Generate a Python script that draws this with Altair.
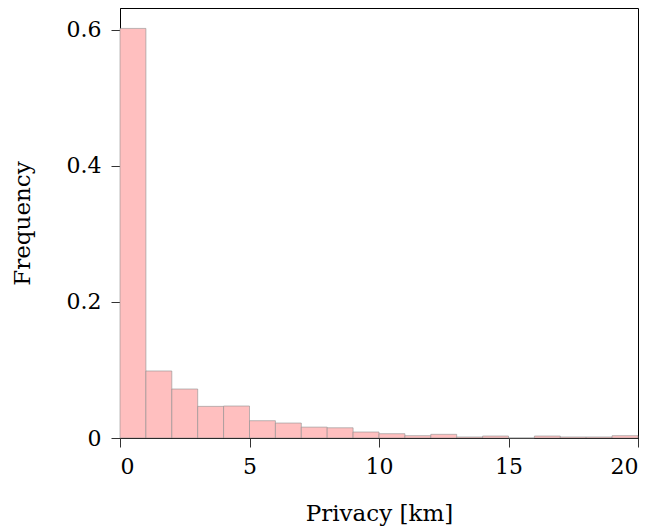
import altair as alt
import pandas as pd

bin_start = list(range(0, 20))
bin_end = list(range(1, 21))
frequency = [0.602, 0.0985, 0.072, 0.0465, 0.047, 0.0254, 0.022, 0.016, 0.015,
             0.0088, 0.0063, 0.0034, 0.0054, 0.0015, 0.0029, 0.0, 0.0029,
             0.0015, 0.0015, 0.0034]

df = pd.DataFrame({"start": bin_start, "end": bin_end, "freq": frequency})

FONT = "DejaVu Serif, serif"

chart = alt.Chart(df).mark_rect(
    fill="#ffbfbf", stroke="#8f8f8f", strokeWidth=1, strokeOpacity=0.6
).encode(
    x=alt.X("start:Q", scale=alt.Scale(domain=[0, 20], nice=False, zero=True),
            axis=alt.Axis(title="Privacy [km]", values=[0, 5, 10, 15, 20],
                          grid=False, tickSize=9, labelPadding=9, titlePadding=25)),
    x2="end:Q",
    y=alt.Y("freq:Q", scale=alt.Scale(domain=[0, 0.632], nice=False),
            axis=alt.Axis(title="Frequency", values=[0, 0.2, 0.4, 0.6], grid=False,
                          tickSize=9, labelPadding=10, titlePadding=32,
                          labelExpr="datum.value == 0 ? '0' : format(datum.value, '.1f')")),
    y2=alt.datum(0),
).properties(
    width=518, height=430,
    autosize=alt.AutoSizeParams(type="none"),
    padding={"left": 120, "top": 8, "right": 16, "bottom": 93},
).configure_view(
    stroke="black", strokeWidth=1
).configure_axis(
    labelFont=FONT, titleFont=FONT, labelFontSize=22, titleFontSize=23,
    titleFontWeight="normal", labelColor="black", titleColor="black",
    domainColor="black", tickColor="#333", domainWidth=1, tickWidth=1,
)

chart.save("out.html", embed_options={"renderer": "svg", "actions": False})
